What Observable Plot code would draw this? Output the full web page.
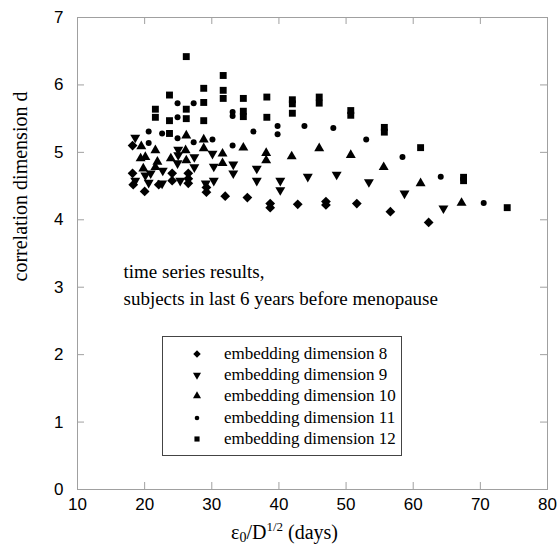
<!DOCTYPE html>
<html><head><meta charset="utf-8">
<script src="https://cdn.jsdelivr.net/npm/d3@7"></script>
<script src="https://cdn.jsdelivr.net/npm/@observablehq/plot@0.6"></script>
<style>
body{margin:0;background:#fff}
#wrap{position:relative;width:560px;height:549px;overflow:hidden}
.serif{font-family:"Liberation Serif","Times New Roman",serif;color:#000}
#xlabel{position:absolute;right:222px;top:520px;font-size:20px;white-space:nowrap;line-height:24px}
#xlabel sub{font-size:14px;vertical-align:-3px;line-height:0}
#xlabel sup{font-size:13px;vertical-align:8px;line-height:0}
#legend{position:absolute;left:162px;top:336px;width:240px;box-sizing:border-box;border:1.5px solid #444;padding:6px 0 6px 0;background:#fff}
.row{display:flex;align-items:center;height:21.3px;font-size:17px}
.row svg{margin-left:24px;flex:none}
.row span{margin-left:17px;white-space:nowrap}
</style></head><body><div id="wrap"></div><script>
// ---- data (x = eps0/D^1/2 in days, y = correlation dimension d)
const seriesNames = ["embedding dimension 8","embedding dimension 9","embedding dimension 10","embedding dimension 11","embedding dimension 12"];
const dim8X = [18.2,18.2,18.3,20.0,22.1,24.1,24.1,26.5,26.5,26.5,29.2,29.2,32.0,35.3,38.7,38.7,42.8,47.0,47.0,51.6,56.6,62.3];
const dim8Y = [5.10,4.69,4.52,4.42,4.52,4.69,4.58,4.69,4.61,4.54,4.48,4.41,4.35,4.33,4.24,4.18,4.23,4.27,4.22,4.24,4.12,3.96];
const dim9X = [18.6,18.6,20.1,20.9,20.6,22.7,22.6,25.0,25.0,24.9,25.3,27.4,27.4,29.1,30.1,30.3,30.3,33.2,33.2,36.7,36.7,40.2,40.2,44.3,48.6,53.4,58.7,64.5];
const dim9Y = [5.22,4.58,4.66,4.69,4.55,4.73,4.54,5.04,4.96,4.84,4.58,4.93,4.78,4.54,4.98,4.79,4.58,4.82,4.69,4.76,4.58,4.58,4.44,4.64,4.67,4.56,4.39,4.17];
const dim10X = [19.5,19.4,20.1,19.8,21.6,21.9,21.6,23.9,26.2,26.1,26.2,28.8,28.8,31.6,31.6,34.7,38.1,38.1,41.9,46.0,50.7,55.6,61.1,67.2];
const dim10Y = [5.09,4.91,4.93,4.76,5.03,4.86,4.78,4.91,5.25,5.03,4.88,5.19,5.06,4.98,4.84,5.07,4.99,4.88,4.94,5.06,4.96,4.78,4.54,4.25];
const dim11X = [20.6,20.6,22.6,24.9,24.9,24.9,27.3,27.3,30.1,33.1,33.1,33.1,36.2,39.8,39.8,43.8,48.1,53.0,58.4,64.1,70.5];
const dim11Y = [5.31,5.14,5.28,5.73,5.52,5.21,5.73,5.15,5.19,5.60,5.54,5.10,5.31,5.39,5.27,5.39,5.36,5.19,4.93,4.64,4.25];
const dim12X = [21.6,21.6,23.7,23.7,23.7,26.2,26.2,26.2,28.8,28.8,28.8,31.7,31.7,31.7,34.7,34.7,34.7,38.2,38.2,42.0,42.0,42.0,46.0,46.0,50.7,50.7,55.7,55.7,61.1,67.5,67.5,74.0];
const dim12Y = [5.64,5.52,5.85,5.47,5.28,6.42,5.64,5.50,5.95,5.74,5.47,6.14,5.92,5.80,5.80,5.61,5.53,5.82,5.52,5.78,5.72,5.58,5.82,5.73,5.62,5.55,5.37,5.30,5.07,4.63,4.58,4.18];
const xTicks = [10,20,30,40,50,60,70,80];
const yTicks = [0,1,2,3,4,5,6,7];
const yTitle = "correlation dimension d";
const note = "time series results,\nsubjects in last 6 years before menopause";

const symbolTypes = {diamond2: d3.symbolDiamond2, triangle: d3.symbolTriangle, circle: d3.symbolCircle, square: d3.symbolSquare};
const series = [
  {xs: dim8X, ys: dim8Y, symbol: "diamond2", r: 4.4, rotate: 0, lr: 3.4},
  {xs: dim9X, ys: dim9Y, symbol: "triangle", r: 3.7, rotate: 180, lr: 3.0},
  {xs: dim10X, ys: dim10Y, symbol: "triangle", r: 3.7, rotate: 0, lr: 3.0},
  {xs: dim11X, ys: dim11Y, symbol: "circle", r: 3.0, rotate: 0, lr: 2.3},
  {xs: dim12X, ys: dim12Y, symbol: "square", r: 3.9, rotate: 0, lr: 2.9}
];

const W = 560, H = 549, mL = 77, mR = 13, mT = 17, mB = 60;
const pW = W - mL - mR, pH = H - mT - mB, tk = 7;
const sans = "Liberation Sans, Arial, sans-serif";
const serif = "Liberation Serif, Times New Roman, serif";
const grey = "#a0a0a0";

const dotMarks = series.map(s => Plot.dot(s.xs.map((x, i) => ({x, y: s.ys[i]})), {
  x: "x", y: "y", symbol: s.symbol, r: s.r, rotate: s.rotate, fill: "black", stroke: "none"
}));

const chart = Plot.plot({
  width: W, height: H, marginLeft: mL, marginRight: mR, marginTop: mT, marginBottom: mB,
  style: {background: "white", color: "black"},
  x: {domain: [10, 80]},
  y: {domain: [0, 7]},
  marks: [
    Plot.frame({stroke: grey}),
    Plot.tickX(xTicks, {x: d => d, insetTop: pH - tk, stroke: grey}),
    Plot.tickX(xTicks, {x: d => d, insetBottom: pH - tk, stroke: grey}),
    Plot.tickY(yTicks, {y: d => d, insetRight: pW - tk, stroke: grey}),
    Plot.tickY(yTicks, {y: d => d, insetLeft: pW - tk, stroke: grey}),
    Plot.axisX({ticks: xTicks, tickSize: 0, tickPadding: 8, tickFormat: d => String(d), label: null, fontSize: 17, fontFamily: sans}),
    Plot.axisY({ticks: yTicks, tickSize: 0, tickPadding: 14, tickFormat: d => String(d), label: null, fontSize: 17, fontFamily: sans}),
    Plot.text([yTitle], {frameAnchor: "left", rotate: -90, dx: -57, dy: 28, fontSize: 20, fontFamily: serif, fill: "black"}),
    Plot.text([note], {x: () => 16.85, y: () => 3.06, textAnchor: "start", lineAnchor: "middle", lineHeight: 1.37, fontSize: 19, fontFamily: serif, fill: "black"}),
    ...dotMarks
  ]
});

const wrap = document.getElementById("wrap");
wrap.appendChild(chart);

const xl = document.createElement("div");
xl.id = "xlabel"; xl.className = "serif";
xl.innerHTML = "ε<sub>0</sub>/D<sup>1/2</sup> (days)";
wrap.appendChild(xl);

const lg = document.createElement("div");
lg.id = "legend"; lg.className = "serif";
series.forEach((s, i) => {
  const row = document.createElement("div");
  row.className = "row";
  const sym = d3.symbol(symbolTypes[s.symbol], Math.PI * s.lr * s.lr)();
  row.innerHTML = `<svg width="20" height="20" viewBox="-10 -10 20 20"><path d="${sym}" fill="black" transform="rotate(${s.rotate})"/></svg><span>${seriesNames[i]}</span>`;
  lg.appendChild(row);
});
wrap.appendChild(lg);
</script></body></html>
